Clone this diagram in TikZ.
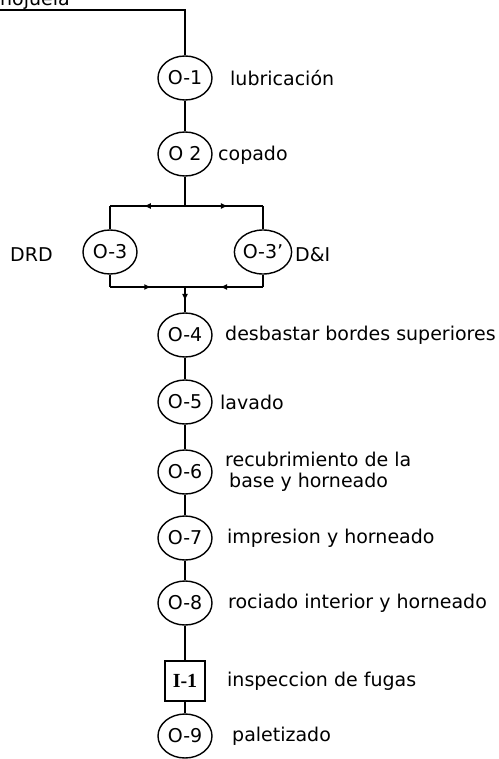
\documentclass[tikz,border=0pt]{standalone}
\usepackage{fontspec}
\setmainfont{DejaVu Sans}
\newfontfamily\boxfont{Liberation Serif}
\usetikzlibrary{shapes.geometric,arrows.meta,%
                decorations.markings}

\tikzset{
  op/.style={draw, ellipse, line width=1.4pt, minimum width=54pt,
    minimum height=44pt, inner sep=0pt, font=\fontsize{19}{21}\selectfont},
  insp/.style={draw, rectangle, line width=1.4pt, minimum width=40pt,
    minimum height=40pt, inner sep=0pt, font=\fontsize{20}{22}\boxfont\bfseries},
  txt/.style={anchor=west, inner sep=0pt, align=left,
    font=\fontsize{19}{21}\selectfont},
  flow/.style={line width=1.4pt},
  midarrow/.style={flow, postaction={decorate}, decoration={markings,
    mark=at position 0.55 with {\arrow{Latex[length=7pt,width=6pt]}}}},
}

\begin{document}
\begin{tikzpicture}[x=1pt, y=-1pt]
    \useasboundingbox (0,0) rectangle (498,759);

    % operaciones
    \node[op] (o1) at (185,78) {O-1};
    \node[op] (o2) at (185,154) {O 2};
    \node[op] (o3a) at (110,252) {O-3};
    \node[op] (o3b) at (263,252) {O-3'};
    \node[op] (o4) at (185,335) {O-4};
    \node[op] (o5) at (185,402) {O-5};
    \node[op] (o6) at (185,472) {O-6};
    \node[op] (o7) at (185,538) {O-7};
    \node[op] (o8) at (185,603) {O-8};
    \node[insp] (i1) at (185,681) {I-1};
    \node[op] (o9) at (185,736) {O-9};

    % textos
    \node[anchor=base west, inner sep=0pt, font=\fontsize{19}{21}\selectfont]
      (lin) at (0,6) {hojuela};
    \node[txt] (l1) at (230,78) {lubricación};
    \node[txt] (l2) at (218,155) {copado};
    \node[txt] (ldrd) at (10,255) {DRD};
    \node[txt] (ldi) at (295,255) {D\&I};
    \node[txt] (l4) at (225,335) {desbastar bordes superiores};
    \node[txt] (l5) at (220,402) {lavado};
    \node[txt] (l6) at (225,472) {recubrimiento de la\\\hspace{4pt}base y horneado};
    \node[txt] (l7) at (227,538) {impresion y horneado};
    \node[txt] (l8) at (228,603) {rociado interior y horneado};
    \node[txt] (li1) at (227,681) {inspeccion de fugas};
    \node[txt] (l9) at (232,736) {paletizado};

    \coordinate (feed) at (0,10);
    \coordinate (split) at (185,206);
    \coordinate (join) at (185,287);

    % flujo
    \draw[flow] (feed) -- (feed -| o1) -- (o1);
    \draw[flow] (o1) -- (o2);
    \draw[flow] (o2) -- (split);
    \draw[midarrow] (split) -- (split -| o3a);
    \draw[midarrow] (split) -- (split -| o3b);
    \draw[flow] (split -| o3a) -- (o3a);
    \draw[flow] (split -| o3b) -- (o3b);
    \draw[flow] (o3a) -- (join -| o3a);
    \draw[flow] (o3b) -- (join -| o3b);
    \draw[midarrow] (join -| o3a) -- (join);
    \draw[midarrow] (join -| o3b) -- (join);
    \draw[midarrow] (join) -- (o4);
    \draw[flow] (o4) -- (o5);
    \draw[flow] (o5) -- (o6);
    \draw[flow] (o6) -- (o7);
    \draw[flow] (o7) -- (o8);
    \draw[flow] (o8) -- (i1);
    \draw[flow] (i1) -- (o9);
\end{tikzpicture}
\end{document}
